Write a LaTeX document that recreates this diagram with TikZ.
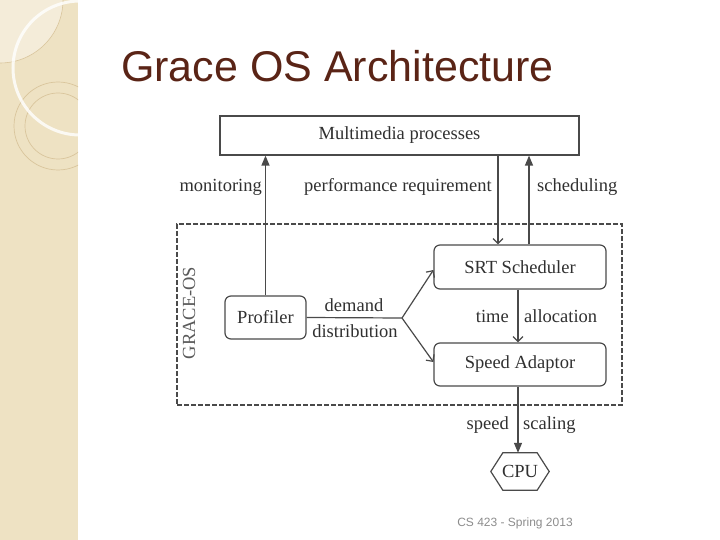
\documentclass[tikz,border=0pt]{standalone}
\usepackage{fontspec}
\setmainfont{Liberation Serif}
\newfontfamily\arialfont{Liberation Sans}
\usetikzlibrary{arrows.meta}
\definecolor{side}{HTML}{EEE2C3}
\definecolor{sidelight}{HTML}{F4ECD9}
\definecolor{sideline}{HTML}{D9C59C}
\definecolor{linegray}{HTML}{4A4A4A}
\definecolor{textgray}{HTML}{303030}
\definecolor{titlecol}{HTML}{5A2416}
\definecolor{footgray}{HTML}{8C8C8C}
\begin{document}
\begin{tikzpicture}[x=1pt,y=-1pt,
  box/.style={draw=linegray, line width=1.2pt, text=textgray, font=\fontsize{18.5}{22}\selectfont, inner sep=0pt},
  rbox/.style={box, rounded corners=6pt},
  lbl/.style={text=textgray, font=\fontsize{18.5}{22}\selectfont, inner sep=0pt},
  conn/.style={draw=linegray, line width=1.2pt},
  filledtip/.style={-{Triangle[length=10pt,width=8pt]}},
  opentip/.style={-{Straight Barb[length=5pt,width=10pt]}}
]
\useasboundingbox (0,0) rectangle (720,540);
% sidebar
\fill[side] (0,0) rectangle (78,540);
\begin{scope}
  \clip (0,0) rectangle (78,540);
  \fill[sidelight, draw=sideline, line width=0.6pt] (0,0) circle (63);
  \draw[sideline, line width=0.7pt] (58,126) circle (44);
  \draw[sideline, line width=0.7pt] (58,126) circle (33);
  \draw[white, opacity=0.8, line width=3pt] (80,68) circle (67);
\end{scope}
% title
\node[anchor=base west, font=\arialfont\fontsize{43}{48}\selectfont, text=titlecol, inner sep=0pt] (title) at (121,82) {Grace OS Architecture};
% frame
\node[draw=linegray, line width=2pt, dash pattern=on 5pt off 2pt, minimum width=445, minimum height=181, inner sep=0pt] (grace) at (399.5,314.5) {};
\node[lbl, rotate=90, text=textgray!80] (glabel) at (189,313) {GRACE-OS};
% nodes
\node[box, minimum width=359, minimum height=39] (mm) at (399.5,135.5) {Multimedia processes};
\node[rbox, minimum width=172, minimum height=44] (srt) at (520,267) {SRT Scheduler};
\node[rbox, minimum width=172, minimum height=43] (sa) at (520,364.5) {Speed Adaptor};
\node[rbox, minimum width=81, minimum height=43] (prof) at (265.5,317.5) {Profiler};
\coordinate (br) at (402,318);
\node[inner sep=0pt, minimum width=58, minimum height=37, text=textgray, font=\fontsize{18.5}{22}\selectfont] (cpu) at (520,471.5) {CPU};
\draw[linegray, line width=1.2pt] (cpu.west) -- ([xshift=12pt]cpu.north west) -- ([xshift=-12pt]cpu.north east) -- (cpu.east) -- ([xshift=-12pt]cpu.south east) -- ([xshift=12pt]cpu.south west) -- cycle;
% connectors
\draw[conn, filledtip] (prof.north) -- (prof.north |- mm.south);
\draw[conn, opentip] ([xshift=-22pt]srt.north |- mm.south) -- ([xshift=-22pt]srt.north);
\draw[conn, filledtip] ([xshift=9pt]srt.north) -- ([xshift=9pt]srt.north |- mm.south);
\draw[conn] (prof.east) -- (br);
\draw[conn, opentip] (br) -- ([yshift=-3pt]srt.west);
\draw[conn, opentip] (br) -- ([yshift=2.5pt]sa.west);
\draw[conn, opentip] ([xshift=-2pt]srt.south) -- ([xshift=-2pt]sa.north);
\draw[conn, filledtip] ([xshift=-2pt]sa.south) -- ([xshift=-2pt]cpu.north);
% labels
\node[lbl, anchor=east] (lmon) at (262,187) {monitoring};
\node[lbl, anchor=west] (lperf) at (304,187) {performance requirement};
\node[lbl, anchor=west] (lsched) at (537,187) {scheduling};
\node[lbl] (ldem) at (354,305) {demand};
\node[lbl] (ldist) at (355,331) {distribution};
\node[lbl, anchor=east] (ltime) at (509,316) {time};
\node[lbl, anchor=west] (lalloc) at (524,316) {allocation};
\node[lbl, anchor=east] (lspeed) at (509,425) {speed};
\node[lbl, anchor=west] (lscal) at (523,425) {scaling};
% footer
\node[font=\arialfont\fontsize{12}{14}\selectfont, text=footgray, inner sep=0pt] (foot) at (515,523) {CS 423 - Spring 2013};
\end{tikzpicture}
\end{document}
